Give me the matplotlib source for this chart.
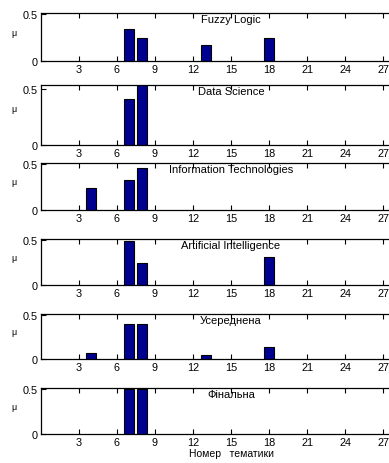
import matplotlib
matplotlib.use("Agg")
import matplotlib.pyplot as plt
import numpy as np

plt.rcParams['font.family'] = ['Liberation Sans', 'DejaVu Sans']

titles = ["Fuzzy Logic", "Data Science", "Information Technologies",
          "Artificial Intelligence", "Усереднена", "Фінальна"]

# topic number -> membership value
fuzzy_x = [7, 8, 13, 18]
fuzzy_y = [0.34, 0.24, 0.17, 0.24]
ds_x = [7, 8]
ds_y = [0.41, 0.56]
it_x = [4, 7, 8]
it_y = [0.24, 0.33, 0.46]
ai_x = [7, 8, 18]
ai_y = [0.49, 0.24, 0.31]
avg_x = [4, 7, 8, 13, 18]
avg_y = [0.066, 0.395, 0.395, 0.047, 0.14]
fin_x = [7, 8]
fin_y = [0.5, 0.5]

xs = [fuzzy_x, ds_x, it_x, ai_x, avg_x, fin_x]
ys = [fuzzy_y, ds_y, it_y, ai_y, avg_y, fin_y]
ytops = [0.51, 0.54, 0.51, 0.51, 0.51, 0.51]
xticks = [3, 6, 9, 12, 15, 18, 21, 24, 27]

W, H = 389, 464
fig = plt.figure(figsize=(W / 100, H / 100), dpi=100)

# panel pixel extents (top, bottom)
panels = [(14, 62), (86, 146), (164, 211), (240, 286), (315, 360), (389, 435)]
left = 40.5
width = 381

for i, (top, bot) in enumerate(panels):
    ax = fig.add_axes([left / W, 1 - bot / H, width / W, (bot - top) / H])
    ax.bar(xs[i], ys[i], width=0.8, color='#000090', edgecolor='black',
           linewidth=0.8, zorder=2)
    ax.set_xlim(0, 30)
    ax.set_ylim(0, ytops[i])
    ax.set_xticks(xticks)
    ax.set_yticks([0, 0.5])
    ax.set_yticklabels(['0', '0.5'])
    ax.tick_params(direction='in', top=True, right=True, length=3.5,
                   width=0.8, labelsize=7.8, pad=2)
    for s in ax.spines.values():
        s.set_linewidth(0.9)
    ax.text(15, ytops[i] * 0.985, titles[i], ha='center', va='top', fontsize=8)
    fig.text(14 / W, 1 - (top + (bot - top) * 0.4) / H, 'μ', fontsize=6.5,
             ha='center', va='center')
    if i == len(panels) - 1:
        ax.set_xlabel('Номер   тематики', fontsize=7.5, labelpad=1)

fig.savefig('out.png', dpi=100)
